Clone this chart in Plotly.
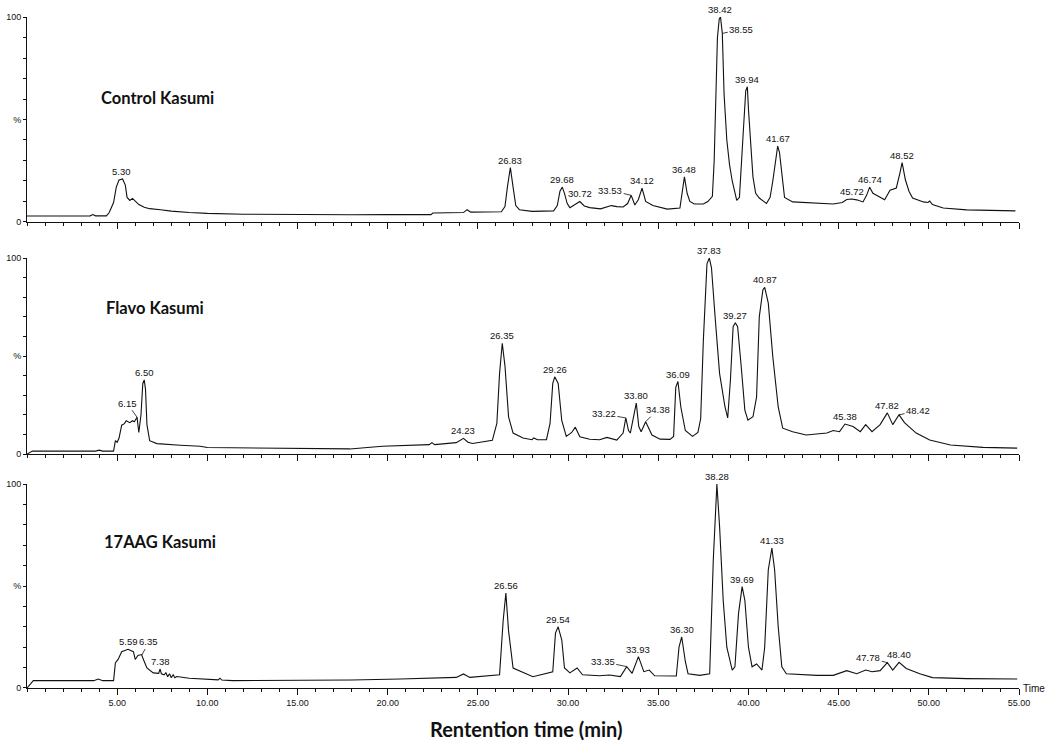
import plotly.graph_objects as go

# ---------------- data ----------------
ctrl_time = [0.0, 2.0, 3.5, 3.65, 3.8, 4.4, 4.55, 4.65, 4.8, 4.95,
             5.1, 5.3, 5.45, 5.55, 5.7, 5.85, 5.95, 6.2, 6.5, 6.8,
             7.4, 8.0, 9.0, 10.0, 12.0, 15.0, 18.0, 20.0, 22.4, 22.5,
             24.2, 24.4, 24.6, 26.3, 26.5, 26.65, 26.8, 26.95, 27.1, 27.3,
             28.0, 29.2, 29.4, 29.55, 29.68, 29.8, 29.95, 30.1, 30.4, 30.65,
             30.9, 31.2, 31.8, 32.4, 32.7, 33.05, 33.3, 33.5, 33.7, 33.9,
             34.1, 34.3, 34.7, 35.5, 36.2, 36.3, 36.45, 36.6, 36.75, 37.0,
             37.5, 37.75, 38.0, 38.1, 38.18, 38.28, 38.38, 38.45, 38.55, 38.65,
             38.8, 38.95, 39.1, 39.35, 39.5, 39.6, 39.72, 39.85, 39.94, 40.0,
             40.1, 40.25, 40.4, 40.6, 41.0, 41.2, 41.35, 41.5, 41.62, 41.72,
             41.85, 42.0, 42.45, 43.2, 43.8, 44.7, 45.2, 45.45, 45.72, 46.0,
             46.35, 46.55, 46.72, 46.9, 47.1, 47.55, 47.85, 48.2, 48.4, 48.52,
             48.7, 48.9, 49.1, 49.7, 49.95, 50.05, 50.2, 50.8, 52.1, 53.5,
             54.8]
ctrl_signal = [2.9, 2.9, 3.0, 3.6, 3.0, 3.0, 4.5, 6.5, 9.5, 17.0,
               20.5, 21.0, 18.0, 12.0, 10.5, 11.5, 10.5, 8.5, 7.2, 6.5,
               6.0, 5.3, 4.6, 4.2, 3.8, 3.5, 3.5, 3.6, 3.6, 4.4,
               4.6, 6.0, 4.8, 5.0, 7.5, 18.0, 26.5, 17.0, 8.0, 6.0,
               5.2, 5.4, 8.0, 15.0, 17.0, 14.0, 9.0, 7.0, 8.5, 10.0,
               7.8, 7.0, 6.4, 8.0, 7.5, 7.3, 9.0, 13.0, 8.3, 11.0,
               16.5, 10.0, 8.0, 6.3, 6.8, 12.0, 22.0, 14.0, 10.0, 8.8,
               8.8, 10.0, 12.5, 30.0, 60.0, 90.0, 99.0, 100.0, 92.0, 62.0,
               40.0, 28.0, 20.0, 10.5, 12.0, 25.0, 45.0, 64.0, 66.0, 55.0,
               40.0, 22.0, 14.0, 11.7, 9.0, 12.0, 20.0, 30.0, 37.0, 34.0,
               24.0, 12.0, 9.8, 9.5, 9.0, 8.8, 9.5, 11.0, 11.2, 10.8,
               9.8, 13.0, 17.0, 14.0, 13.0, 10.8, 15.5, 16.6, 24.0, 29.0,
               20.6, 15.0, 11.7, 9.8, 9.5, 10.2, 8.5, 6.8, 5.9, 5.5,
               5.4]

flavo_time = [0.0, 0.3, 3.8, 4.0, 4.2, 4.8, 4.9, 5.0, 5.1, 5.25,
              5.4, 5.5, 5.7, 5.85, 5.95, 6.1, 6.2, 6.32, 6.42, 6.5,
              6.57, 6.65, 6.8, 7.2, 8.5, 9.6, 10.0, 12.5, 15.0, 17.9,
              19.7, 20.7, 22.3, 22.45, 22.6, 23.8, 24.2, 24.45, 24.7, 25.8,
              26.05, 26.2, 26.35, 26.5, 26.7, 26.95, 27.5, 28.0, 28.1, 28.3,
              28.8, 29.0, 29.15, 29.26, 29.45, 29.65, 29.9, 30.2, 30.4, 30.65,
              31.2, 31.75, 32.15, 32.7, 33.05, 33.2, 33.35, 33.45, 33.65, 33.78,
              33.92, 34.05, 34.3, 34.5, 34.65, 35.1, 35.65, 35.85, 35.97, 36.09,
              36.25, 36.5, 36.9, 37.2, 37.35, 37.5, 37.7, 37.83, 37.95, 38.15,
              38.4, 38.7, 38.85, 39.0, 39.15, 39.27, 39.4, 39.6, 39.8, 39.97,
              40.25, 40.45, 40.6, 40.8, 40.9, 41.1, 41.35, 41.65, 41.9, 42.45,
              43.2, 44.35, 44.7, 45.05, 45.35, 45.8, 46.2, 46.5, 46.85, 47.3,
              47.7, 48.0, 48.35, 48.65, 49.3, 50.05, 51.2, 53.0, 54.9]
flavo_signal = [0.0, 1.5, 1.5, 2.0, 1.5, 1.5, 6.8, 6.0, 8.0, 14.7,
                15.5, 17.0, 16.0, 17.0, 16.5, 18.8, 11.0, 20.0, 36.0, 37.8,
                33.0, 15.0, 6.8, 5.3, 4.5, 4.0, 3.3, 3.0, 2.6, 2.6,
                4.0, 4.4, 4.8, 5.8, 4.8, 5.8, 8.0, 6.0, 5.4, 7.0,
                15.6, 41.0, 56.5, 45.0, 19.0, 10.7, 8.2, 7.3, 8.2, 7.3,
                7.3, 15.6, 36.0, 39.4, 36.0, 17.0, 9.0, 11.0, 13.7, 8.8,
                7.5, 7.3, 8.5, 7.1, 10.7, 18.4, 12.0, 10.7, 21.0, 26.0,
                14.0, 11.4, 16.5, 13.0, 9.7, 7.6, 7.5, 9.0, 34.0, 37.0,
                24.0, 12.0, 9.0, 11.0, 18.0, 58.0, 97.0, 100.0, 95.0, 70.0,
                41.0, 24.0, 18.4, 37.8, 65.0, 67.0, 65.0, 44.5, 22.4, 17.3,
                19.0, 29.0, 70.0, 83.7, 85.0, 77.0, 49.6, 24.0, 13.2, 11.4,
                9.7, 10.7, 12.0, 11.4, 15.3, 14.0, 11.4, 15.0, 11.4, 15.0,
                21.0, 15.0, 20.0, 16.0, 10.7, 7.1, 4.6, 3.4, 3.0]

aag_time = [0.0, 0.35, 3.7, 3.95, 4.2, 4.8, 4.9, 5.05, 5.25, 5.6,
            5.9, 6.0, 6.15, 6.35, 6.5, 6.65, 7.0, 7.3, 7.38, 7.45,
            7.6, 7.7, 7.8, 7.9, 8.0, 8.1, 8.2, 8.3, 9.0, 9.6,
            10.6, 10.7, 10.8, 11.4, 15.0, 18.0, 20.7, 22.5, 23.8, 24.2,
            24.55, 26.2, 26.4, 26.55, 26.7, 26.95, 28.05, 29.15, 29.3, 29.45,
            29.65, 29.8, 30.1, 30.5, 30.8, 31.75, 32.3, 32.9, 33.25, 33.55,
            33.9, 34.2, 34.5, 34.8, 36.0, 36.15, 36.3, 36.5, 36.65, 37.3,
            37.85, 38.05, 38.25, 38.4, 38.6, 38.8, 39.1, 39.25, 39.45, 39.65,
            39.8, 40.0, 40.2, 40.45, 40.75, 40.9, 41.1, 41.3, 41.45, 41.65,
            41.85, 42.1, 43.8, 44.7, 45.45, 46.0, 46.5, 46.85, 47.3, 47.7,
            48.0, 48.35, 48.75, 49.5, 50.2, 52.1, 54.9]
aag_signal = [0.0, 3.6, 3.6, 4.4, 3.6, 3.6, 12.3, 14.0, 17.8, 19.0,
              17.8, 14.0, 16.0, 16.4, 13.0, 9.8, 7.4, 7.2, 9.3, 7.0,
              6.5, 7.5, 5.5, 7.0, 5.0, 6.5, 5.0, 5.6, 4.8, 4.4,
              4.0, 4.8, 3.9, 3.6, 3.7, 3.9, 4.4, 5.0, 5.2, 6.9,
              5.2, 6.5, 33.0, 46.5, 28.0, 9.8, 5.5, 7.9, 26.9, 30.0,
              23.5, 9.8, 7.4, 9.8, 6.5, 6.0, 6.4, 5.6, 10.5, 7.2,
              15.4, 8.0, 8.8, 6.0, 5.9, 20.0, 25.0, 13.0, 7.0, 6.2,
              7.0, 62.6, 100.0, 79.0, 43.0, 20.0, 8.8, 10.4, 36.6, 49.7,
              43.0, 20.0, 10.4, 11.8, 8.8, 20.0, 58.0, 68.6, 58.0, 30.0,
              10.4, 7.0, 6.2, 6.2, 8.5, 7.0, 8.8, 8.0, 8.5, 12.4,
              8.8, 12.6, 9.6, 7.0, 5.1, 4.6, 4.4]

# peak labels: text, apex time, apex height
ctrl_peak_text = ["5.30", "26.83", "29.68", "30.72", "33.53", "34.12", "36.48",
                  "38.42", "38.55", "39.94", "41.67", "45.72", "46.74", "48.52"]
ctrl_peak_time = [5.25, 26.8, 29.68, 30.65, 33.5, 34.1, 36.45,
                  38.42, 38.55, 39.94, 41.62, 45.72, 46.72, 48.52]
ctrl_peak_height = [21.0, 26.5, 17.0, 10.0, 13.0, 16.5, 22.0,
                    100.0, 92.0, 66.0, 37.0, 11.2, 17.0, 29.0]

flavo_peak_text = ["6.15", "6.50", "24.23", "26.35", "29.26", "33.22", "33.80",
                   "34.38", "36.09", "37.83", "39.27", "40.87", "45.38", "47.82", "48.42"]
flavo_peak_time = [6.1, 6.5, 24.2, 26.35, 29.26, 33.2, 33.78,
                   34.3, 36.09, 37.83, 39.27, 40.9, 45.35, 47.7, 48.35]
flavo_peak_height = [18.8, 37.8, 8.0, 56.5, 39.4, 18.4, 26.0,
                     16.5, 37.0, 100.0, 67.0, 85.0, 15.3, 21.0, 20.0]

aag_peak_text = ["5.59", "6.35", "7.38", "26.56", "29.54", "33.35", "33.93",
                 "36.30", "38.28", "39.69", "41.33", "47.78", "48.40"]
aag_peak_time = [5.6, 6.37, 7.38, 26.55, 29.45, 33.25, 33.9,
                 36.3, 38.25, 39.65, 41.3, 47.7, 48.35]
aag_peak_height = [19.0, 16.2, 9.3, 46.5, 30.0, 10.5, 15.4,
                   25.0, 100.0, 49.7, 68.6, 12.4, 12.6]

sample_names = ["Control Kasumi", "Flavo Kasumi", "17AAG Kasumi"]
x_tick_values = [5, 10, 15, 20, 25, 30, 35, 40, 45, 50, 55]
x_tick_labels = ["5.00", "10.00", "15.00", "20.00", "25.00", "30.00",
                 "35.00", "40.00", "45.00", "50.00", "55.00"]
y_tick_values = [0, 10, 20, 30, 40, 50, 60, 70, 80, 90, 100]
y_tick_labels = ["0", "", "", "", "", "%", "", "", "", "", "100"]

# ---------------- styling ----------------
INK = "#111111"
SMALL = dict(family="Liberation Sans, Arial, sans-serif", size=9.5, color=INK)
TICKF = dict(family="Liberation Sans, Arial, sans-serif", size=9, color=INK)
TITLEF = dict(family="Lato, Open Sans, sans-serif", size=16.5, color="#111111")

# leader-line labels: (ax, ay) pixel offsets of the text from the peak apex
leaders = {
    (0, "33.53"): (-21, -5), (0, "38.55"): (19, -4),
    (1, "6.15"): (-10, -14), (1, "33.22"): (-22, -4),
    (1, "34.38"): (12, -12), (1, "48.42"): (19, -4),
    (2, "6.35"): (7, -13), (2, "33.35"): (-24, -5), (2, "47.78"): (-19, -5),
}

panels = [
    dict(t=ctrl_time, s=ctrl_signal, pt=ctrl_peak_text, px=ctrl_peak_time,
         ph=ctrl_peak_height, dom=[0.6945, 1.0], title_xy=(7.26, 60.3)),
    dict(t=flavo_time, s=flavo_signal, pt=flavo_peak_text, px=flavo_peak_time,
         ph=flavo_peak_height, dom=[0.3487, 0.6408], title_xy=(7.1, 74.5)),
    dict(t=aag_time, s=aag_signal, pt=aag_peak_text, px=aag_peak_time,
         ph=aag_peak_height, dom=[0.0, 0.304], title_xy=(7.37, 71.6)),
]

fig = go.Figure()
annotations = []
layout_axes = {}

for i, p in enumerate(panels):
    n = "" if i == 0 else str(i + 1)
    xr, yr = "x" + n, "y" + n
    fig.add_trace(go.Scatter(x=p["t"], y=p["s"], mode="lines", xaxis=xr, yaxis=yr,
                             line=dict(color=INK, width=1.1), hoverinfo="skip",
                             showlegend=False))
    layout_axes["xaxis" + n] = dict(
        domain=[0, 1], anchor=yr, range=[0, 55], showline=True, linecolor=INK,
        linewidth=1, ticks="outside", ticklen=6, tickwidth=1, tickcolor=INK,
        tickmode="array", tickvals=x_tick_values, ticktext=x_tick_labels,
        showticklabels=(i == 2), tickfont=TICKF, showgrid=False, zeroline=False,
        automargin=False,
        minor=dict(tickmode="linear", tick0=0, dtick=1, ticks="outside",
                   ticklen=3, tickwidth=1, tickcolor=INK, showgrid=False),
    )
    layout_axes["yaxis" + n] = dict(
        domain=p["dom"], anchor=xr, range=[0, 100], showline=True, linecolor=INK,
        linewidth=1, ticks="outside", ticklen=3, tickwidth=1, tickcolor=INK,
        tickmode="array", tickvals=y_tick_values, ticktext=y_tick_labels,
        tickfont=TICKF, showgrid=False, zeroline=False, ticklabelstandoff=0,
        automargin=False,
    )
    # sample title
    annotations.append(dict(x=p["title_xy"][0], y=p["title_xy"][1], xref=xr, yref=yr,
                            text="<b>" + sample_names[i] + "</b>", showarrow=False,
                            font=TITLEF, xanchor="center", yanchor="middle"))
    # peak labels
    for txt, tx, th in zip(p["pt"], p["px"], p["ph"]):
        key = (i, txt)
        if key in leaders:
            ax, ay = leaders[key]
            annotations.append(dict(x=tx, y=th, xref=xr, yref=yr, text=txt,
                                    showarrow=True, arrowhead=0, arrowwidth=0.8,
                                    arrowcolor=INK, ax=ax, ay=ay, font=SMALL,
                                    standoff=0, startstandoff=0))
        else:
            annotations.append(dict(x=tx, y=th, xref=xr, yref=yr, text=txt,
                                    showarrow=False, font=SMALL, xanchor="center",
                                    yanchor="bottom", yshift=0))

# "Time" end label and axis title
annotations.append(dict(x=1, y=0, xref="paper", yref="y3", text="Time", showarrow=False,
                        xanchor="left", yanchor="middle", xshift=2, yshift=-1,
                        font=dict(family="Liberation Sans, Arial, sans-serif",
                                  size=10, color=INK)))
annotations.append(dict(x=0.504, y=-0.061, xref="paper", yref="paper",
                        text="<b>Rentention time (min)</b>", showarrow=False,
                        xanchor="center", yanchor="middle",
                        font=dict(family="Lato, Open Sans, sans-serif", size=20,
                                  color="#111111")))

fig.update_layout(
    template="none",
    width=1050, height=743,
    margin=dict(l=27, r=31, t=17, b=55, autoexpand=False),
    plot_bgcolor="white", paper_bgcolor="white",
    showlegend=False, annotations=annotations,
    **layout_axes,
)

fig.write_html("out.html",
               config={"displayModeBar": False, "staticPlot": True},
               post_script="document.body.style.margin='0';"
                           "document.body.style.overflow='hidden';")
